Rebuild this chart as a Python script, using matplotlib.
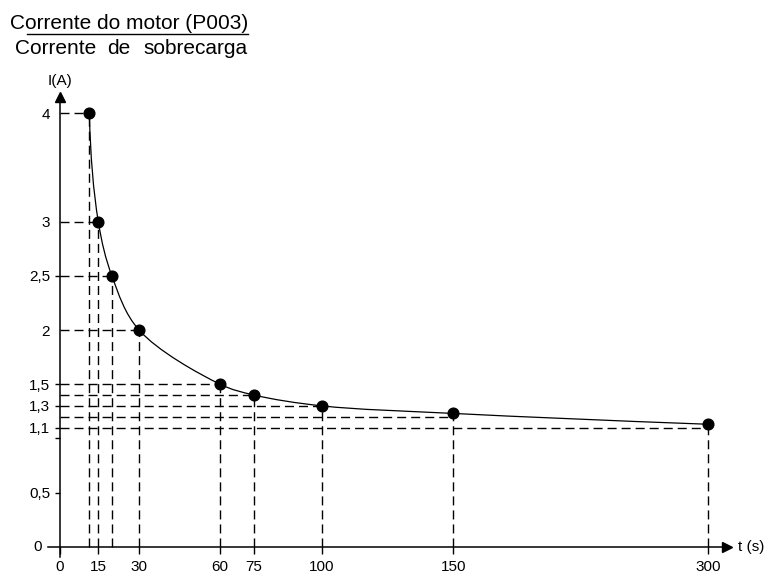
import numpy as np
import matplotlib
matplotlib.use("Agg")
import matplotlib.pyplot as plt
from matplotlib.path import Path
from matplotlib.patches import PathPatch
from matplotlib.lines import Line2D

plt.rcParams['font.family'] = ['Liberation Sans', 'DejaVu Sans']

# pontos da curva I x t
t_pts = [11.5, 15, 20, 30, 60, 75, 100, 150, 300]
i_pts = [4.0, 3.0, 2.5, 2.0, 1.5, 1.4, 1.3, 1.23, 1.13]
i_ref = [4.0, 3.0, 2.5, 2.0, 1.5, 1.4, 1.3, 1.2, 1.1]  # nivel das tracejadas

x_ticks = [0, 15, 30, 60, 75, 100, 150, 300]
y_ticks = [0.5, 1.0, 1.1, 1.3, 1.5, 2, 2.5, 3, 4]
y_labels = ['0,5', '', '1,1', '1,3', '1,5', '2', '2,5', '3', '4']

W, H = 766, 577
fig = plt.figure(figsize=(W / 100, H / 100), dpi=100)

# eixo t fora de escala no original -> escala por trechos (px de cada marca)
_t = np.array([-100, 0, 15, 30, 60, 75, 100, 150, 300, 1000])
_u = np.array([-195.3, 60, 98.3, 139, 220, 254, 321.7, 453.3, 708.3, 1898.3])
fwd = lambda t: np.interp(t, _t, _u)
inv = lambda u: np.interp(u, _u, _t)

ax = fig.add_axes([48 / W, 20 / H, 679 / W, 460 / H])
ax.set_xscale('function', functions=(fwd, inv))
ax.set_xlim(inv(48), inv(727))
y0, ppu = 546.7, 108.35
ax.set_ylim((y0 - 557) / ppu, (y0 - 97) / ppu)

ax.spines[['top', 'right']].set_visible(False)
ax.spines['left'].set_position(('data', 0))
ax.spines['bottom'].set_position(('data', 0))
ax.spines[['left', 'bottom']].set_linewidth(1.1)
ax.plot(1, 0, '>k', ms=7, transform=ax.get_yaxis_transform(), clip_on=False)
ax.plot(0, 1, '^k', ms=7, transform=ax.get_xaxis_transform(), clip_on=False)

# linhas de chamada tracejadas
for t, i, r in zip(t_pts, i_pts, i_ref):
    ax.plot([0, t], [r, r], color='k', lw=1, dashes=(6.5, 3.6))
    ax.plot([t, t], [0, i], color='k', lw=1, dashes=(6.5, 3.6))

# curva suave pelos pontos: catmull-rom centripeta -> bezier
P = np.column_stack([fwd(np.array(t_pts)), np.array(i_pts) * ppu])
n = len(P)
dt = np.linalg.norm(np.diff(P, axis=0), axis=1) ** 0.5
m = np.zeros_like(P)
for k in range(1, n - 1):
    d0, d1 = dt[k - 1], dt[k]
    m[k] = ((P[k] - P[k - 1]) / d0 - (P[k + 1] - P[k - 1]) / (d0 + d1)
            + (P[k + 1] - P[k]) / d1)
m[0] = 2 * (P[1] - P[0]) / dt[0] - m[1]
m[-1] = 2 * (P[-1] - P[-2]) / dt[-1] - m[-2]
verts = [P[0]]
codes = [Path.MOVETO]
for k in range(n - 1):
    verts += [P[k] + m[k] * dt[k] / 3, P[k + 1] - m[k + 1] * dt[k] / 3, P[k + 1]]
    codes += [Path.CURVE4] * 3
verts = np.array(verts)
verts[:, 0] = inv(verts[:, 0])
verts[:, 1] /= ppu
ax.add_patch(PathPatch(Path(verts, codes), fill=False, ec='k', lw=0.9))

ax.plot(t_pts, i_pts, 'o', color='k', ms=7.7, zorder=5)

ax.set_xticks(x_ticks)
ax.set_xticklabels([str(v) for v in x_ticks])
ax.tick_params(axis='x', direction='out', length=5, width=1, pad=4.5, labelsize=11)
ax.set_yticks(y_ticks)
ax.set_yticklabels(y_labels)
ax.tick_params(axis='y', direction='out', length=3.6, width=1, pad=3.6, labelsize=11)
for tk, v in zip(ax.yaxis.get_major_ticks(), y_ticks):
    if v in (2, 3, 4):
        tk.tick1line.set_visible(False)
ax.annotate('0', xy=(0, 0), xytext=(-13, 0), textcoords='offset points',
            ha='right', va='center', fontsize=11)

fig.text(10 / W, 1 - 29.3 / H, 'Corrente do motor (P003)', fontsize=15, va='baseline')
for word, px, ha in [('Corrente', 15, 'left'), ('de', 107, 'left'), ('sobrecarga', 248, 'right')]:
    fig.text(px / W, 1 - 54 / H, word, fontsize=15, va='baseline', ha=ha)
fig.add_artist(Line2D([27 / W, 248 / W], [1 - 34.3 / H] * 2, color='k', lw=1))
fig.text(60 / W, 1 - 85 / H, 'I(A)', ha='center', va='baseline', fontsize=11)
fig.text(738 / W, 1 - 547 / H, 't (s)', ha='left', va='center', fontsize=11)

fig.savefig('out.png', dpi=100)
